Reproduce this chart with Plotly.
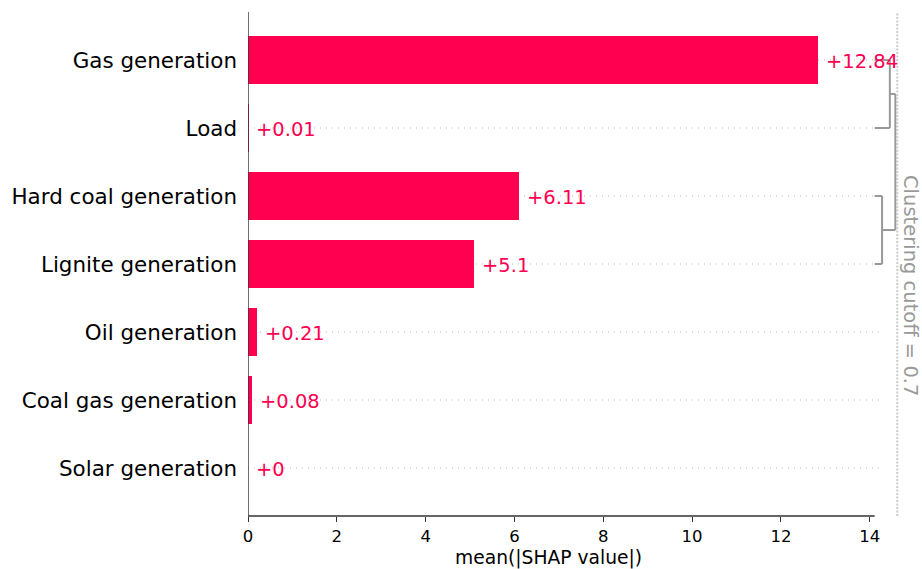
import plotly.graph_objects as go

# Feature importances (mean |SHAP value|), top to bottom
features = ["Gas generation", "Load", "Hard coal generation", "Lignite generation",
            "Oil generation", "Coal gas generation", "Solar generation"]
mean_abs_shap = [12.84, 0.01, 6.11, 5.1, 0.21, 0.08, 0.0]

# Hierarchical clustering of features: (left row span, right row span, distance)
merges = [
    ((0, 0), (1, 1), 0.47),   # Gas generation + Load
    ((2, 2), (3, 3), 0.23),   # Hard coal + Lignite
    ((0, 1), (2, 3), 0.64),   # root merge
]
cutoff = 0.7
x_ticks = [0, 2, 4, 6, 8, 10, 12, 14]

RED = "#ff0051"
FONT = "DejaVu Sans"
W, H = 922, 569
ML, MT, MB = 248, 12, 53
px_per_unit = 44.41
x_max = (W - ML) / px_per_unit
dendro_base = 14.11
dendro_scale = 0.729

rows = list(range(len(features)))

fig = go.Figure()
fig.add_trace(go.Bar(
    x=mean_abs_shap, y=rows, orientation="h", width=0.7,
    marker=dict(color=RED, line=dict(width=0)), hoverinfo="skip",
))

shapes = []
# faint dotted row guides
for r in rows:
    shapes.append(dict(type="line", xref="x", yref="y", x0=0, x1=14.28, y0=r, y1=r,
                       line=dict(color="#bbbbbb", width=1, dash="1px,5px"), layer="below"))

# dendrogram
def dx(d):
    return dendro_base + d * dendro_scale

centers = {}
heights = {}
for r in rows:
    centers[(r, r)] = r
    heights[(r, r)] = 0.0
DG = dict(color="#999999", width=2)
for (a, b, d) in merges:
    ca, cb = centers[a], centers[b]
    ha, hb = heights[a], heights[b]
    shapes.append(dict(type="line", xref="x", yref="y", x0=dx(ha), x1=dx(d), y0=ca, y1=ca, line=DG))
    shapes.append(dict(type="line", xref="x", yref="y", x0=dx(hb), x1=dx(d), y0=cb, y1=cb, line=DG))
    shapes.append(dict(type="line", xref="x", yref="y", x0=dx(d), x1=dx(d), y0=ca, y1=cb, line=DG))
    key = (a[0], b[1])
    centers[key] = (ca + cb) / 2
    heights[key] = d

# cutoff line
shapes.append(dict(type="line", xref="x", yref="paper", x0=dx(cutoff), x1=dx(cutoff), y0=0, y1=1,
                   line=dict(color="#cccccc", width=2, dash="2px,1.5px")))
# spines
shapes.append(dict(type="line", xref="x", yref="paper", x0=0, x1=0, y0=0, y1=1,
                   line=dict(color="#333333", width=1.4)))
shapes.append(dict(type="line", xref="x", yref="paper", x0=0, x1=14.11, y0=0, y1=0,
                   line=dict(color="#333333", width=1.4)))

annotations = []
for r, v in zip(rows, mean_abs_shap):
    annotations.append(dict(x=v, y=r, xref="x", yref="y", text=f"+{round(v, 2):g}",
                            showarrow=False, xanchor="left", yanchor="middle", xshift=6, yshift=-1,
                            font=dict(family=FONT, size=19.5, color=RED)))
annotations.append(dict(x=(548 - ML) / (W - ML), y=-42 / (H - MT - MB), xref="paper", yref="paper",
                        text="mean(|SHAP value|)", showarrow=False, xanchor="center", yanchor="middle",
                        font=dict(family=FONT, size=18.7, color="#000000")))
annotations.append(dict(x=(911 - ML) / (W - ML), y=(516 - 285) / (H - MT - MB), xref="paper", yref="paper",
                        text=f"Clustering cutoff = {cutoff}", showarrow=False, textangle=90,
                        xanchor="center", yanchor="middle",
                        font=dict(family=FONT, size=19.5, color="#999999")))

span = (H - MT - MB) / 68.0
fig.update_layout(
    width=W, height=H,
    margin=dict(l=ML, r=0, t=MT, b=MB, pad=0),
    paper_bgcolor="white", plot_bgcolor="white",
    showlegend=False, bargap=0,
    shapes=shapes, annotations=annotations,
    xaxis=dict(range=[0, x_max], tickvals=x_ticks, ticktext=[str(t) for t in x_ticks],
               showgrid=False, zeroline=False, showline=False,
               ticks="outside", ticklen=5, tickwidth=1.3, tickcolor="#333333",
               tickfont=dict(family=FONT, size=16.5, color="#000000"), fixedrange=True),
    yaxis=dict(range=[len(features) - 1 + (span - (len(features) - 1)) / 2,
                      -(span - (len(features) - 1)) / 2],
               tickvals=rows, ticktext=features, showgrid=False, zeroline=False, showline=False,
               ticks="", ticklabelstandoff=10,
               tickfont=dict(family=FONT, size=21.45, color="#000000"), fixedrange=True),
)

fig.write_html("out.html")
